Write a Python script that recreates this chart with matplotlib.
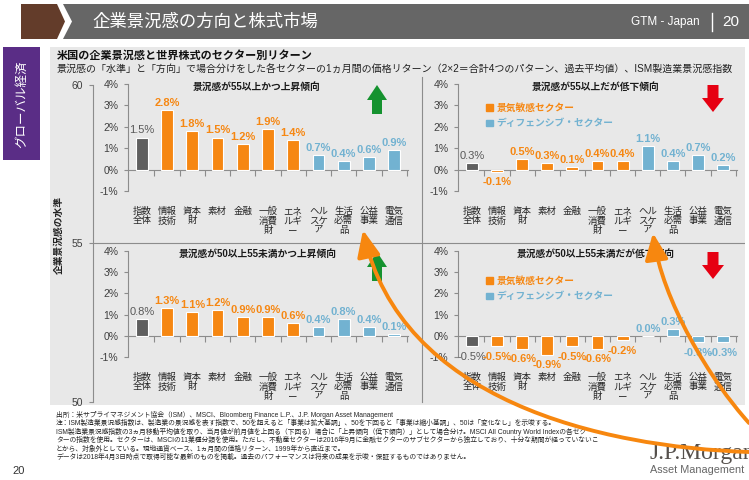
import matplotlib
matplotlib.use('Agg')
import matplotlib.pyplot as plt
import numpy as np
from matplotlib.patches import Rectangle, Polygon, FancyArrowPatch, Patch
from matplotlib.lines import Line2D
from matplotlib.path import Path

plt.rcParams['font.family'] = ['Liberation Sans', 'Noto Sans CJK JP', 'DejaVu Sans']

# ---- data ----
categories = ['指数\n全体', '情報\n技術', '資本\n財', '素材', '金融', '一般\n消費\n財',
              'エネ\nルギ\nー', 'ヘル\nスケ\nア', '生活\n必需\n品', '公益\n事業', '電気\n通信']
sector_type = ['index', 'cyc', 'cyc', 'cyc', 'cyc', 'cyc', 'cyc', 'def', 'def', 'def', 'def']

ret_high_up = [1.5, 2.8, 1.8, 1.5, 1.2, 1.9, 1.4, 0.7, 0.4, 0.6, 0.9]
ret_high_down = [0.3, -0.1, 0.5, 0.3, 0.1, 0.4, 0.4, 1.1, 0.4, 0.7, 0.2]
ret_mid_up = [0.8, 1.3, 1.1, 1.2, 0.9, 0.9, 0.6, 0.4, 0.8, 0.4, 0.1]
ret_mid_down = [-0.5, -0.5, -0.6, -0.9, -0.5, -0.6, -0.2, 0.0, 0.3, -0.3, -0.3]

panel_titles = ['景況感が55以上かつ上昇傾向', '景況感が55以上だが低下傾向',
                '景況感が50以上55未満かつ上昇傾向', '景況感が50以上55未満だが低下傾向']
ret_ticks = [-1, 0, 1, 2, 3, 4]
ism_ticks = [50, 55, 60]
legend_labels = ['景気敏感セクター', 'ディフェンシブ・セクター']

notes = [
    '出所：米サプライマネジメント協会（ISM）、MSCI、Bloomberg Finance L.P.、J.P. Morgan Asset Management',
    '注：ISM製造業景況感指数は、製造業の景況感を表す指数で、50を超えると「事業は拡大基調」、50を下回ると「事業は縮小基調」、50は「変化なし」を示唆する。',
    'ISM製造業景況感指数の3ヵ月移動平均値を取り、当月値が前月値を上回る（下回る）場合に「上昇傾向（低下傾向）」として場合分け。MSCI All Country World Indexの各セク',
    'ターの指数を使用。セクターは、MSCIの11業種分類を使用。ただし、不動産セクターは2016年9月に金融セクターのサブセクターから独立しており、十分な期間が経っていないこ',
    'とから、対象外としている。現地通貨ベース、1ヵ月間の価格リターン、1999年から直近まで。',
    'データは2018年4月3日時点で取得可能な最新のものを掲載。過去のパフォーマンスは将来の成果を示唆・保証するものではありません。',
]

# ---- colours ----
c_idx = '#5f5f5f'
c_cyc = '#f68712'
c_def = '#72b2d1'
c_arrow = '#f7870f'
axis_grey = '#8c8c8c'
bar_colors = {'index': c_idx, 'cyc': c_cyc, 'def': c_def}
label_colors = {'index': '#595959', 'cyc': c_cyc, 'def': c_def}

W, H = 749, 480
fig = plt.figure(figsize=(W / 100, H / 100), dpi=100)


def fx(x):
    return x / W


def fy(y):
    return 1 - y / H


def box(l, t, r, b):
    return [l / W, 1 - b / H, (r - l) / W, (b - t) / H]


def rect(l, t, r, b, color, z=-2):
    fig.add_artist(Rectangle((fx(l), fy(b)), (r - l) / W, (b - t) / H, color=color,
                             transform=fig.transFigure, zorder=z, lw=0))


def poly(pts, color, z=-2):
    fig.add_artist(Polygon([(fx(x), fy(y)) for x, y in pts], closed=True, color=color,
                           transform=fig.transFigure, zorder=z, lw=0))


# ---- slide background ----
poly([(21, 4), (57, 4), (65, 21.5), (57, 39), (21, 39)], '#633c2a')
poly([(63, 4), (749, 4), (749, 39), (63, 39), (72, 21.5)], '#666666')
rect(3, 47, 40, 160, '#5a2d86')
rect(50, 47, 745, 405, '#e8e8e8')

fig.text(fx(92), fy(22), '企業景況感の方向と株式市場', color='white', fontsize=12.5, va='center')
fig.text(fx(700), fy(22), 'GTM - Japan', color='white', fontsize=8.5, va='center', ha='right')
fig.add_artist(Line2D([fx(712), fx(712)], [fy(13), fy(31)], color='white', lw=1,
                      transform=fig.transFigure))
fig.text(fx(722), fy(22), '20', color='white', fontsize=11, va='center', ha='left')
fig.text(fx(22), fy(104), 'グローバル経済', color='white', fontsize=9, rotation=90,
         va='center', ha='center')

fig.text(fx(57), fy(56), '米国の企業景況感と世界株式のセクター別リターン', fontsize=8,
         fontweight='bold', va='center', color='#111111')
fig.text(fx(57), fy(70), '景況感の「水準」と「方向」で場合分けをした各セクターの1ヵ月間の価格リターン'
         '（2×2＝合計4つのパターン、過去平均値）、ISM製造業景況感指数',
         fontsize=7.2, va='center', color='#222222')

# ---- outer ISM axis ----
ax0 = fig.add_axes(box(93, 85, 745, 402))
ax0.patch.set_visible(False)
ax0.set_ylim(50, 60)
ax0.set_xlim(0, 1)
ax0.set_yticks(ism_ticks)
ax0.set_xticks([])
for s in ['top', 'right', 'bottom']:
    ax0.spines[s].set_visible(False)
ax0.spines['left'].set_color(axis_grey)
ax0.spines['left'].set_linewidth(0.8)
ax0.tick_params(axis='y', length=3, width=0.8, color=axis_grey, labelsize=7.5,
                labelcolor='#404040', pad=4)
ax0.axhline(55, color=axis_grey, lw=0.8)
fig.add_artist(Line2D([fx(422), fx(422)], [fy(77), fy(402)], color=axis_grey, lw=0.8,
                      transform=fig.transFigure))
fig.text(fx(59), fy(235), '企業景況感の水準', rotation=90, fontsize=7, fontweight='bold',
         va='center', ha='center', color='#222222')

# ---- four bar panels ----
panels = [
    (ret_high_up, (128, 84, 408, 191), (257, 87), 'up', None),
    (ret_high_down, (458, 84, 737, 191), (596, 87), 'down', (486, 103)),
    (ret_mid_up, (128, 251, 408, 357), (258, 254), 'up', None),
    (ret_mid_down, (458, 251, 737, 357), (596, 254), 'down', (486, 276)),
]

x = np.arange(len(categories))
for i, (vals, pbox, tpos, direction, leg) in enumerate(panels):
    ax = fig.add_axes(box(*pbox))
    ax.patch.set_visible(False)
    ax.bar(x, vals, width=0.47, color=[bar_colors[t] for t in sector_type],
           edgecolor='white', linewidth=0.8, zorder=3)
    ax.set_xlim(-0.55, len(categories) - 0.45)
    ax.set_ylim(-1, 4)
    ax.set_yticks(ret_ticks)
    ax.set_yticklabels([f'{t}%' for t in ret_ticks])
    ax.set_xticks(x + 0.5)
    ax.set_xticklabels([])
    ax.spines['bottom'].set_position(('data', 0))
    for s in ['top', 'right']:
        ax.spines[s].set_visible(False)
    for s in ['left', 'bottom']:
        ax.spines[s].set_color(axis_grey)
        ax.spines[s].set_linewidth(0.8)
    ax.tick_params(axis='y', length=3, width=0.8, color=axis_grey, labelsize=7.5,
                   labelcolor='#404040', pad=4)
    ax.tick_params(axis='x', length=4, width=0.8, color=axis_grey)

    for xi, v, t in zip(x, vals, sector_type):
        off, va = (1.5, 'bottom') if v >= 0 else (-4, 'top')
        ax.annotate(f'{v:.1f}%', (xi, v), xytext=(0, off), textcoords='offset points',
                    ha='center', va=va, fontsize=8, color=label_colors[t],
                    fontweight='normal' if t == 'index' else 'bold', zorder=4)
    for xi, lab in zip(x, categories):
        ax.text(xi, -1.75, lab, ha='center', va='top', fontsize=6.8, linespacing=1.05,
                color='#262626')

    fig.text(fx(tpos[0]), fy(tpos[1]), panel_titles[i], fontsize=7, fontweight='bold',
             ha='center', va='center', color='#1a1a1a')

    if leg is not None:
        lg = ax.legend([Patch(color=c_cyc), Patch(color=c_def)], legend_labels,
                       loc='upper left', bbox_to_anchor=(fx(leg[0]), fy(leg[1])),
                       bbox_transform=fig.transFigure, frameon=False, fontsize=7,
                       handlelength=0.7, handleheight=0.7, handletextpad=0.4,
                       labelspacing=0.55, borderpad=0, borderaxespad=0)
        for txt, c in zip(lg.get_texts(), [c_cyc, c_def]):
            txt.set_color(c)
            txt.set_fontweight('bold')

    if direction == 'up':
        cx, top = 377, pbox[1] + 1
        poly([(cx, top), (cx + 10, top + 15), (cx + 5, top + 15), (cx + 5, top + 29),
              (cx - 5, top + 29), (cx - 5, top + 15), (cx - 10, top + 15)], '#15922f', z=5)
    else:
        cx, top = 713, pbox[1] + 1
        poly([(cx - 5.5, top), (cx + 5.5, top), (cx + 5.5, top + 13), (cx + 11, top + 13),
              (cx, top + 27), (cx - 11, top + 13), (cx - 5.5, top + 13)], '#e60012', z=5)

# ---- footnotes and logo ----
for k, line in enumerate(notes):
    fig.text(fx(56), fy(415 + 8.5 * k), line, fontsize=4.9, va='center', color='#262626')
fig.text(fx(19), fy(471), '20', fontsize=8, ha='center', va='center', color='#333333')
fig.text(fx(650), fy(459), 'J.P.Morgan', fontsize=17, color='#55504c',
         family=['Liberation Serif', 'DejaVu Serif'], va='baseline')
fig.text(fx(650), fy(470), 'Asset Management', fontsize=7.8, color='#666666', va='center')

# ---- big orange curved arrows ----
curves = [
    [(749, 452), (600, 447), (400, 400), (363, 230)],
    [(749, 423), (710, 380), (662, 300), (653, 233)],
]
for pts in curves:
    path = Path([(fx(a), fy(b)) for a, b in pts],
                [Path.MOVETO, Path.CURVE4, Path.CURVE4, Path.CURVE4])
    fig.add_artist(FancyArrowPatch(path=path, arrowstyle='-|>,head_length=16,head_width=7',
                                   color=c_arrow, lw=2.8, transform=fig.transFigure,
                                   zorder=20))

fig.savefig('out.png', dpi=100)
